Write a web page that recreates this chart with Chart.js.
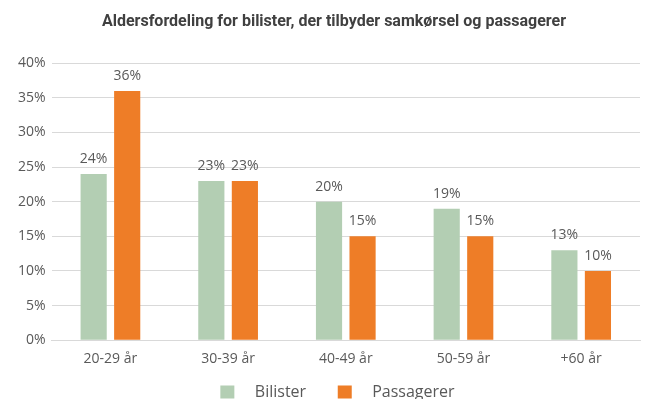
<!DOCTYPE html>
<html>
<head>
<meta charset="utf-8">
<script src="https://cdn.jsdelivr.net/npm/chart.js@4/dist/chart.umd.min.js"></script>
<style>
  html, body { margin: 0; padding: 0; background: #fff; }
  #wrap { width: 651px; height: 399px; }
</style>
</head>
<body>
<div id="wrap"><canvas id="c" width="651" height="399"></canvas></div>
<script>
const categories = ['20-29 år', '30-39 år', '40-49 år', '50-59 år', '+60 år'];
const bilister = [24, 23, 20, 19, 13];
const passagerer = [36, 23, 15, 15, 10];
const yTicks = [0, 5, 10, 15, 20, 25, 30, 35, 40];

const textColor = '#595959';
const fontFamily = "'Open Sans', 'Noto Sans', sans-serif";
const titleFamily = "'Roboto', sans-serif";

// Value labels above each bar
const valueLabels = {
  id: 'valueLabels',
  afterDatasetsDraw(chart) {
    const ctx = chart.ctx;
    ctx.save();
    ctx.fillStyle = textColor;
    ctx.font = "14px " + fontFamily;
    ctx.textAlign = 'center';
    ctx.textBaseline = 'bottom';
    chart.data.datasets.forEach((ds, i) => {
      chart.getDatasetMeta(i).data.forEach((bar, j) => {
        ctx.fillText(ds.data[j] + '%', bar.x, bar.y - 8);
      });
    });
    ctx.restore();
  }
};

new Chart(document.getElementById('c'), {
  type: 'bar',
  data: {
    labels: categories,
    datasets: [
      { label: 'Bilister', data: bilister, backgroundColor: '#B3CEB3' },
      { label: 'Passagerer', data: passagerer, backgroundColor: '#EE7D27' }
    ]
  },
  options: {
    responsive: false,
    animation: false,
    layout: { padding: { left: 12, right: 11, top: 0, bottom: -11 } },
    categoryPercentage: 0.57,
    barPercentage: 0.78,
    plugins: {
      title: {
        display: true,
        text: '    Aldersfordeling for bilister, der tilbyder samkørsel og passagerer',
        color: '#404040',
        font: { family: titleFamily, size: 16, weight: 'bold' },
        padding: { top: 12, bottom: 32 }
      },
      legend: {
        position: 'bottom',
        fullSize: false,
        labels: {
          color: textColor,
          font: { family: fontFamily, size: 16 },
          boxWidth: 14,
          boxHeight: 13,
          padding: 15,
          generateLabels(chart) {
            const items = Chart.defaults.plugins.legend.labels.generateLabels(chart);
            items.forEach(it => { it.text = '   ' + it.text + '    '; });
            return items;
          }
        }
      },
      tooltip: { enabled: false }
    },
    scales: {
      x: {
        grid: { display: false },
        border: { color: '#D9D9D9' },
        ticks: { color: textColor, font: { family: fontFamily, size: 14 }, padding: 2 }
      },
      y: {
        min: 0,
        max: 40,
        afterBuildTicks(axis) { axis.ticks = yTicks.map(v => ({ value: v })); },
        grid: { color: '#D9D9D9', drawTicks: false },
        border: { display: false },
        ticks: {
          color: textColor,
          font: { family: fontFamily, size: 14 },
          padding: 6,
          callback: v => v + '%'
        }
      }
    }
  },
  plugins: [valueLabels]
});
</script>
</body>
</html>
